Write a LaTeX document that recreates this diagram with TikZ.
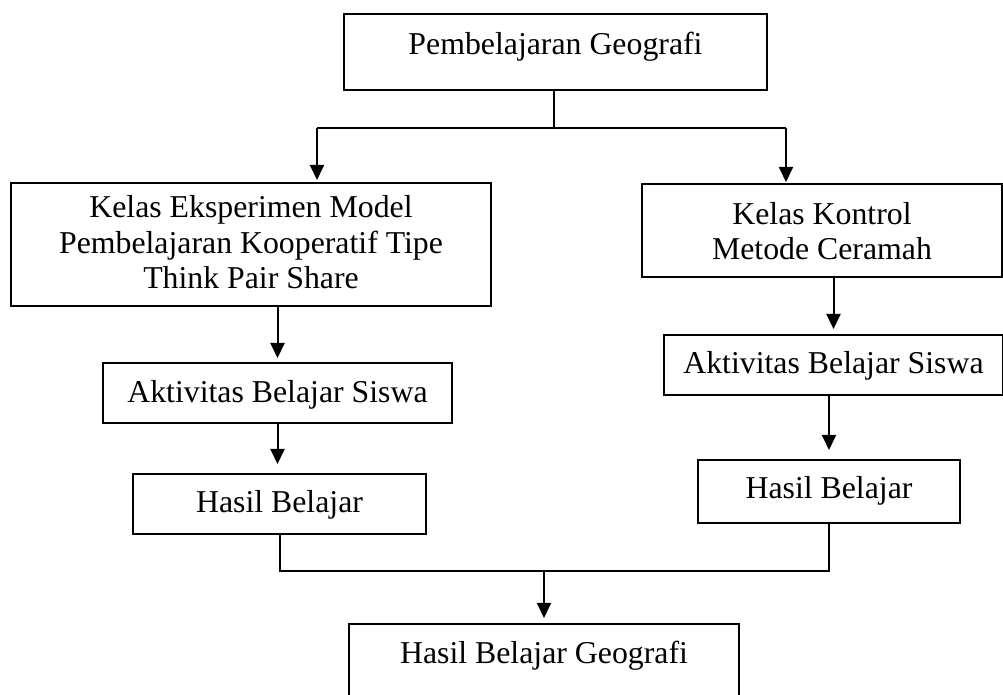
\documentclass[tikz,border=0pt]{standalone}
\usepackage{fontspec}
\setmainfont{Liberation Serif}
\usetikzlibrary{arrows.meta}
\begin{document}
\begin{tikzpicture}[x=0.5pt,y=-0.5pt,
  bx/.style n args={4}{draw, line width=1pt, anchor=north west, inner xsep=0pt, inner ysep=0pt,
    font=\fontsize{15.9}{17.8}\selectfont, align=center,
    minimum width=#1*0.5pt, minimum height=#2*0.5pt,
    text height=#3*0.5pt, text depth=(#2-#3)*0.5pt},
  ln/.style={line width=1pt},
  arr/.style={line width=1pt, -{Triangle[width=7pt,length=7.5pt]}}]
\useasboundingbox (0,0) rectangle (1003,695);
\clip (0,0) rectangle (1003,695);

\node[bx={423}{76}{41}{}] (top) at (343,13) {Pembelajaran Geografi};
\node[bx={480}{123}{106}{}] (kelasE) at (10,182) {Kelas Eksperimen Model\\Pembelajaran Kooperatif Tipe\\Think Pair Share};
\node[bx={360}{93}{76}{}] (kelasK) at (641,183) {Kelas Kontrol\\Metode Ceramah};
\node[bx={349}{60}{40}{}] (aktL) at (102,362) {Aktivitas Belajar Siswa};
\node[bx={293}{60}{39}{}] (hasilL) at (132,473) {Hasil Belajar};
\node[bx={339}{60}{39}{}] (aktR) at (663,334) {Aktivitas Belajar Siswa};
\node[bx={262}{63}{39}{}] (hasilR) at (697,459) {Hasil Belajar};
\node[bx={390}{120}{40}{}] (final) at (348,623) {Hasil Belajar Geografi};

\coordinate (j1) at (554,128);
\coordinate (jl) at (317,128);
\coordinate (jr) at (786,128);
\coordinate (j2) at (544,571);

\draw[ln] (top.south -| j1) -- (j1);
\draw[ln] (jl) -- (jr);
\draw[arr, shorten >=1pt] (jl) -- (jl |- kelasE.north);
\draw[arr, shorten >=0.5pt] (jr) -- (jr |- kelasK.north);
\draw[arr, shorten >=2pt] (kelasE.south -| aktL.north) -- (aktL.north);
\draw[arr, shorten >=4.5pt] (aktL.south) -- (aktL.south |- hasilL.north);
\draw[arr, shorten >=2.5pt] (kelasK.south -| aktR.north) -- (aktR.north);
\draw[arr, shorten >=4.5pt] (aktR.south -| hasilR.north) -- (hasilR.north);
\draw[ln] (hasilL.south) |- (hasilR.south |- j2) -- (hasilR.south);
\draw[arr, shorten >=2.5pt] (j2) -- (j2 |- final.north);
\end{tikzpicture}
\end{document}
